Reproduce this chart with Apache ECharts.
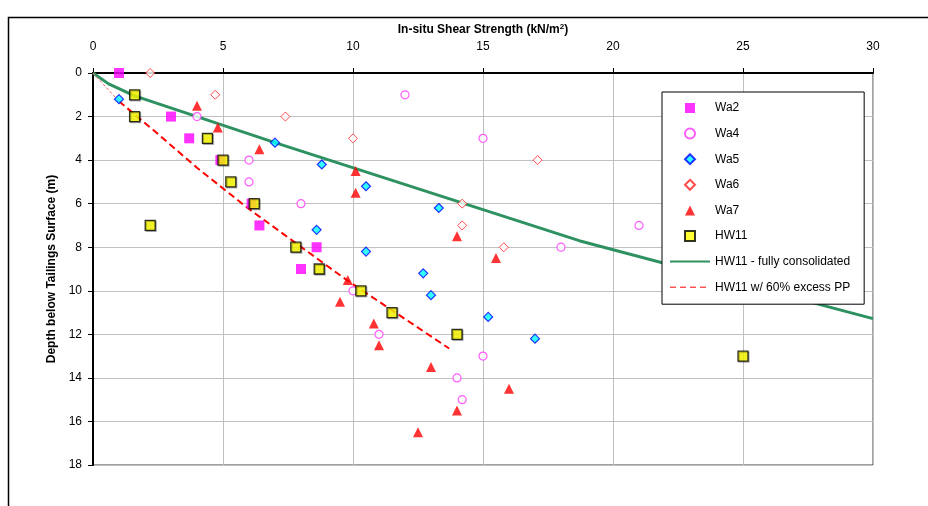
<!DOCTYPE html>
<html>
<head>
<meta charset="utf-8">
<script src="https://cdn.jsdelivr.net/npm/echarts@6/dist/echarts.min.js"></script>
<style>
  html, body { margin: 0; padding: 0; background: #fff; }
  #chart { width: 928px; height: 506px; }
</style>
</head>
<body>
<div id="chart"></div>
<script>
// In-situ shear strength (kN/m2) against depth below tailings surface (m)
const wa2Su = [1.0, 3.0, 3.7, 4.9, 6.1, 6.4, 8.6, 8.0];
const wa2Depth = [0, 2, 3, 4, 6, 7, 8, 9];

const wa4Su = [12, 4, 15, 6, 6, 8, 21, 18, 10, 11, 15, 14, 14.2];
const wa4Depth = [1, 2, 3, 4, 5, 6, 7, 8, 10, 12, 13, 14, 15];

const wa5Su = [1.0, 7.0, 8.8, 10.5, 13.3, 8.6, 10.5, 12.7, 13.0, 15.2, 17.0];
const wa5Depth = [1.2, 3.2, 4.2, 5.2, 6.2, 7.2, 8.2, 9.2, 10.2, 11.2, 12.2];

const wa6Su = [2.2, 4.7, 7.4, 10.0, 17.1, 14.2, 14.2, 15.8];
const wa6Depth = [0, 1, 2, 3, 4, 6, 7, 8];

const wa7Su = [4.0, 4.8, 6.4, 10.1, 10.1, 14.0, 15.5, 9.8, 9.5, 10.8, 11.0, 13.0, 16.0, 14.0, 12.5];
const wa7Depth = [1.5, 2.5, 3.5, 4.5, 5.5, 7.5, 8.5, 9.5, 10.5, 11.5, 12.5, 13.5, 14.5, 15.5, 16.5];

const hw11Su = [1.6, 1.6, 4.4, 5.0, 5.3, 6.2, 2.2, 7.8, 8.7, 10.3, 11.5, 14.0, 25.0];
const hw11Depth = [1, 2, 3, 4, 5, 6, 7, 8, 9, 10, 11, 12, 13];

// HW11 strength profile, fully consolidated
const consolSu = [0, 0.6, 1.6, 4.0, 7.0, 18.7, 30.0];
const consolDepth = [0, 0.5, 1.05, 2.0, 3.2, 7.7, 11.28];

// HW11 strength profile with 60% excess pore pressure
const excessSu = [0, 1.0, 2.4, 4.0, 5.95, 7.5, 9.75, 13.7];
const excessDepth = [0, 1.3, 2.7, 4.35, 6.2, 7.55, 9.5, 12.65];

const suTicks = [0, 5, 10, 15, 20, 25, 30];
const depthTicks = [0, 2, 4, 6, 8, 10, 12, 14, 16, 18];

const pairs = (xs, ys) => xs.map((x, i) => [x, ys[i]]);

const FONT = '"Liberation Sans", Arial, sans-serif';
const excessPts = pairs(excessSu, excessDepth);
// line entries in the key show only their stroke
const noMarker = { color: 'rgba(0,0,0,0)', borderWidth: 0, opacity: 0 };
// square-proportioned key markers
const KEY = {
  rect: 'path://M0,0H10V10H0Z',
  circle: 'path://M5,0.6A4.4,4.4 0 1,1 5,9.4A4.4,4.4 0 1,1 5,0.6Z',
  diamond: 'path://M5,0L10,5L5,10L0,5Z',
  triangle: 'path://M5,0L10,10H0Z'
};

const chart = echarts.init(document.getElementById('chart'), null, { renderer: 'canvas' });

chart.setOption({
  backgroundColor: '#ffffff',
  animation: false,
  textStyle: { fontFamily: FONT },
  grid: {
    left: 93, top: 73, width: 780, height: 392,
    show: true, borderColor: '#404040', borderWidth: 1, backgroundColor: '#ffffff'
  },
  graphic: [{
    type: 'rect',
    shape: { x: 8.5, y: 17.5, width: 1200, height: 1200 },
    style: { fill: 'none', stroke: '#000', lineWidth: 1.5 },
    silent: true, z: 0
  }],
  legend: {
    orient: 'vertical',
    left: 662, top: 92,
    padding: [9, 14, 10, 7],
    itemWidth: 40, itemHeight: 10, itemGap: 11.6,
    symbolKeepAspect: true,
    backgroundColor: '#ffffff',
    borderColor: '#000000', borderWidth: 1,
    textStyle: { fontFamily: FONT, fontSize: 12, color: '#000', lineHeight: 14 },
    data: [
      { name: 'Wa2', icon: KEY.rect },
      { name: 'Wa4', icon: KEY.circle },
      { name: 'Wa5', icon: KEY.diamond },
      { name: 'Wa6', icon: KEY.diamond },
      { name: 'Wa7', icon: KEY.triangle },
      { name: 'HW11', icon: KEY.rect },
      { name: 'HW11 - fully consolidated', itemStyle: noMarker },
      { name: 'HW11 w/ 60% excess PP', itemStyle: noMarker,
        lineStyle: { color: '#ff0000', width: 1, type: [6, 4] } }
    ]
  },
  xAxis: {
    type: 'value', position: 'top',
    min: 0, max: 30, interval: 5,
    name: '{a|In-situ Shear Strength (kN/m}{s|2}{a|)}',
    nameLocation: 'middle', nameGap: 35,
    nameTextStyle: {
      rich: {
        a: { fontFamily: FONT, fontSize: 12, fontWeight: 'bold', color: '#000' },
        s: { fontFamily: FONT, fontSize: 8, fontWeight: 'bold', color: '#000', verticalAlign: 'top', padding: [0, 0, 6, 0] }
      }
    },
    axisLine: { show: true, lineStyle: { color: '#000', width: 2 } },
    axisTick: { show: true, length: 5, lineStyle: { color: '#000', width: 1 } },
    axisLabel: { fontFamily: FONT, fontSize: 12, color: '#000', margin: 20,
      formatter: v => suTicks.includes(v) ? String(v) : '' },
    splitLine: { show: true, lineStyle: { color: '#c0c0c0', width: 1 } }
  },
  yAxis: {
    type: 'value', inverse: true,
    min: 0, max: 18, interval: 2,
    name: 'Depth below Tailings Surface (m)',
    nameLocation: 'middle', nameGap: 35, nameRotate: 90,
    nameTextStyle: { fontFamily: FONT, fontSize: 12, fontWeight: 'bold', color: '#000' },
    axisLine: { show: true, lineStyle: { color: '#000', width: 2 } },
    axisTick: { show: true, length: 5, lineStyle: { color: '#000', width: 1 } },
    axisLabel: { fontFamily: FONT, fontSize: 12, color: '#000', margin: 11,
      formatter: v => depthTicks.includes(v) ? String(v) : '' },
    splitLine: { show: true, lineStyle: { color: '#c0c0c0', width: 1 } }
  },
  series: [
    {
      name: 'HW11 - fully consolidated', type: 'line', z: 2,
      data: pairs(consolSu, consolDepth),
      symbol: 'none', clip: true,
      lineStyle: { color: '#2e9160', width: 3 },
      itemStyle: { color: '#2e9160' }
    },
    {
      // near-surface segment of the excess pore pressure profile, drawn fine
      name: 'HW11 w/ 60% excess PP', type: 'line', z: 2,
      data: excessPts.slice(0, 2),
      symbol: 'none',
      lineStyle: { color: '#ff6060', width: 1, type: [3, 2] },
      itemStyle: { color: '#ff0000' }
    },
    {
      name: 'HW11 w/ 60% excess PP', type: 'line', z: 2,
      data: excessPts.slice(1),
      symbol: 'none',
      lineStyle: { color: '#ff0000', width: 2, type: [7, 4] },
      itemStyle: { color: '#ff0000' }
    },
    {
      name: 'Wa2', type: 'scatter', z: 3,
      data: pairs(wa2Su, wa2Depth),
      symbol: 'rect', symbolSize: 10,
      itemStyle: { color: '#ff00ff' }
    },
    {
      name: 'Wa4', type: 'scatter', z: 3,
      data: pairs(wa4Su, wa4Depth),
      symbol: 'circle', symbolSize: 8,
      itemStyle: { color: '#ffffff', borderColor: '#ff33ff', borderWidth: 1.2 }
    },
    {
      name: 'Wa5', type: 'scatter', z: 3,
      data: pairs(wa5Su, wa5Depth),
      symbol: 'diamond', symbolSize: 9,
      itemStyle: { color: '#00ffff', borderColor: '#0000ff', borderWidth: 1.2 }
    },
    {
      name: 'Wa6', type: 'scatter', z: 3,
      data: pairs(wa6Su, wa6Depth),
      symbol: 'diamond', symbolSize: 9,
      itemStyle: { color: '#ffffff', borderColor: '#ff2020', borderWidth: 1 }
    },
    {
      name: 'Wa7', type: 'scatter', z: 3,
      data: pairs(wa7Su, wa7Depth),
      symbol: 'triangle', symbolSize: 10,
      itemStyle: { color: '#ff0000' }
    },
    {
      name: 'HW11', type: 'scatter', z: 4,
      data: pairs(hw11Su, hw11Depth),
      symbol: 'rect', symbolSize: 10,
      itemStyle: {
        color: '#ffff00', borderColor: '#000000', borderWidth: 1.3,
        shadowColor: 'rgba(0,0,0,0.35)', shadowOffsetX: 1, shadowOffsetY: 1, shadowBlur: 0
      }
    }
  ]
});
</script>
</body>
</html>
